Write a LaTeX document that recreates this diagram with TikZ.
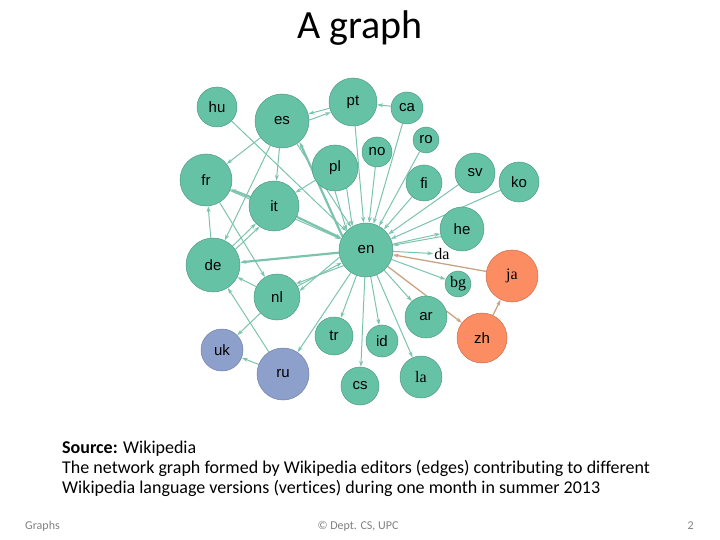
\documentclass[tikz,border=0pt]{standalone}
\usepackage{fontspec}
\setmainfont{Carlito}[Ligatures=NoCommon]
\newfontfamily\labf{Liberation Sans}
\newfontfamily\labs{Liberation Serif}
\usetikzlibrary{arrows.meta,backgrounds}
\definecolor{gn}{HTML}{66C2A5}
\definecolor{gnd}{HTML}{4F9A84}
\definecolor{bl}{HTML}{8DA0CB}
\definecolor{bld}{HTML}{6F80A8}
\definecolor{og}{HTML}{FC8D62}
\definecolor{ogd}{HTML}{C86E4C}
\definecolor{ec}{HTML}{7CC3AE}
\definecolor{eb}{HTML}{C9A383}
\definecolor{ft}{HTML}{7F7F7F}
\tikzset{
  v/.style={circle, fill=gn, draw=gnd, line width=0.5pt, inner sep=0pt, font=\labf\fontsize{15}{15}\selectfont},
  vs/.style={v, font=\labs\fontsize{16}{16}\selectfont},
  vb/.style={v, fill=bl, draw=bld},
  vo/.style={v, fill=og, draw=ogd},
  e/.style={draw=ec, line width=1pt, -{Stealth[length=6pt,width=4pt]}},
  et/.style={e, line width=2.2pt},
  ebr/.style={e, draw=eb, line width=1.3pt},
}
\begin{document}
\begin{tikzpicture}[x=1pt,y=-1pt]
\useasboundingbox (0,0) rectangle (720,540);
% title
\node[font=\fontsize{40}{40}\selectfont] (title) at (360,28) {A graph};
% nodes
\node[v, minimum size=40] (hu) at (217,107) {hu};
\node[v, minimum size=54] (es) at (282,121) {es};
\node[v, minimum size=48] (pt) at (353,102) {pt};
\node[v, minimum size=32] (ca) at (407,108) {ca};
\node[v, minimum size=26] (ro) at (426,140) {ro};
\node[v, minimum size=30] (no) at (377,152) {no};
\node[v, minimum size=46] (pl) at (335,168) {pl};
\node[v, minimum size=36] (fi) at (424,183) {fi};
\node[v, minimum size=40] (sv) at (475,173) {sv};
\node[v, minimum size=40] (ko) at (519,182) {ko};
\node[v, minimum size=52] (fr) at (206,180) {fr};
\node[v, minimum size=50] (it) at (274,206) {it};
\node[v, minimum size=44] (he) at (462,229) {he};
\node[v, minimum size=54] (en) at (366,250) {en};
\node[font=\labs\fontsize{16}{16}\selectfont, inner sep=1pt] (da) at (442,254) {da};
\node[v, minimum size=54] (de) at (213,265) {de};
\node[vo, font=\labs\fontsize{16}{16}\selectfont, minimum size=52] (ja) at (512,276) {ja};
\node[vs, minimum size=26] (bg) at (458,284) {bg};
\node[v, minimum size=46] (nl) at (277,297) {nl};
\node[v, minimum size=42] (ar) at (426,317) {ar};
\node[v, minimum size=38] (tr) at (334,336) {tr};
\node[v, minimum size=32] (id) at (382,341) {id};
\node[vo, minimum size=50] (zh) at (482,338) {zh};
\node[vb, minimum size=42] (uk) at (222,350) {uk};
\node[vb, minimum size=52] (ru) at (283,374) {ru};
\node[v, minimum size=38] (cs) at (360,386) {cs};
\node[vs, minimum size=42] (la) at (421,377) {la};
% edges
\begin{scope}[on background layer]
\draw[e] (pt.195) -- (es.15);
\draw[e] (es.2) -- (pt.205);
\draw[e] (ca) -- (pt);
\draw[e] (hu) -- (en);
\draw[e] (es) -- (fr);
\draw[e] (es) -- (it);
\draw[et] (en.150) -- (es.310);
\draw[e] (es) -- (de);
\draw[et] (it) -- (fr);
\draw[e] (fr) -- (nl);
\draw[e] (de) -- (fr);
\draw[e] (de) -- (it);
\draw[e] (de.35) -- (it.235);
\draw[e] (fr) -- (en);
\draw[et] (en) -- (de);
\draw[e] (nl) -- (de);
\draw[e] (en.195) -- (nl.15);
\draw[e] (en.215) -- (nl.35);
\draw[e] (ru) -- (de);
\draw[e] (nl) -- (uk);
\draw[e] (ru) -- (uk);
\draw[e] (en) -- (ru);
\draw[e] (en) -- (tr);
\draw[e] (en) -- (cs);
\draw[e] (en) -- (id);
\draw[e] (en) -- (la);
\draw[e] (en) -- (ar);
\draw[e] (en) -- (bg);
\draw[e] (en) -- (da);
\draw[e] (en) -- (he);
\draw[e] (he.200) -- (en.10);
\draw[ebr] (en) -- (zh);
\draw[ebr] (ja) -- (en);
\draw[ebr] (zh) -- (ja);
\draw[e] (pl) -- (it);
\draw[e] (pl.300) -- (en.120);
\draw[e] (pl.270) -- (en.135);
\draw[e] (pt) -- (en);
\draw[e] (no) -- (en);
\draw[e] (ca) -- (en);
\draw[e] (ro) -- (en);
\draw[e] (fi) -- (en);
\draw[e] (sv) -- (en);
\draw[e] (ko) -- (en);
\draw[et] (it) -- (en);
\draw[e] (es) -- (en);
\draw[e] (nl) -- (en);
\end{scope}
% caption
\node[anchor=north west, align=left, font=\fontsize{18}{22}\selectfont, inner sep=0pt] (cap) at (62,441)
 {\textbf{Source:} Wikipedia\\[-2pt]
  The network graph formed by Wikipedia editors (edges) contributing to different\\[-2pt]
  Wikipedia language versions (vertices) during one month in summer 2013};
\node[font=\fontsize{12}{12}\selectfont, text=ft, anchor=west, inner sep=0pt] (f1) at (25,526) {Graphs};
\node[font=\fontsize{12}{12}\selectfont, text=ft, inner sep=0pt] (f2) at (358,526) {© Dept. CS, UPC};
\node[font=\fontsize{12}{12}\selectfont, text=ft, anchor=east, inner sep=0pt] (f3) at (694,526) {2};
\end{tikzpicture}
\end{document}
